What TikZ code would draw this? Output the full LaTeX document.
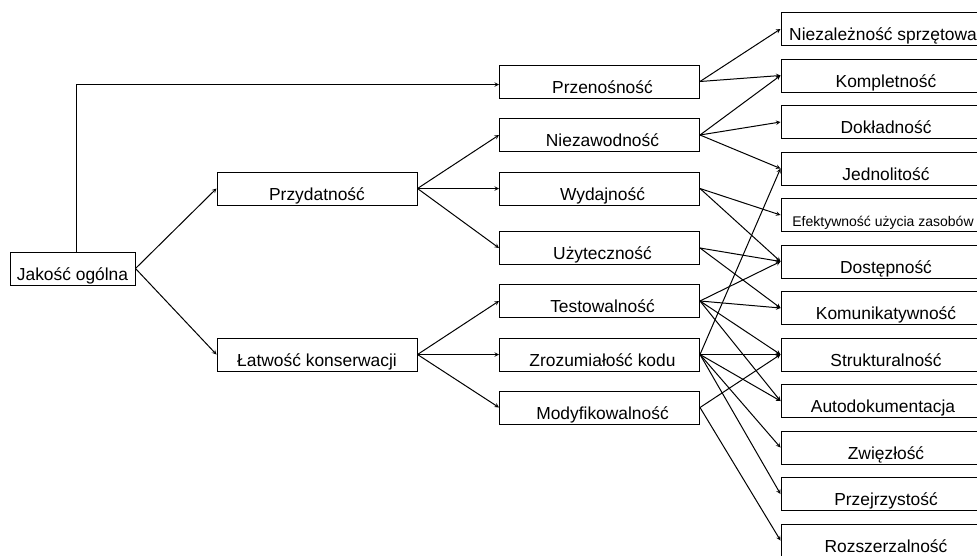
\documentclass[tikz,border=0pt]{standalone}
\usepackage{fontspec}
\setmainfont{Liberation Sans}
\usetikzlibrary{arrows}

\begin{document}
\begin{tikzpicture}[x=1pt, y=-1pt, >=stealth, line width=1pt,
  every node/.style={draw, rectangle, minimum height=33pt, inner ysep=0pt,
    text height=28pt, text depth=5pt, font=\fontsize{17.4}{20}\selectfont},
  leftbox/.style={minimum width=125pt},
  midbox/.style={minimum width=200pt},
  rightbox/.style={minimum width=204pt}]
  \clip (0,0) rectangle (977,555);

  \node[leftbox] (jakosc) at (72.5,268.5) {Jakość ogólna};
  \node[midbox]  (przyd)  at (317,188.5)  {Przydatność};
  \node[midbox]  (latw)   at (317,354.5)  {Łatwość konserwacji};

  \node[midbox] (przen)  at (599.5,81.5)  {\hspace*{6pt}Przenośność};
  \node[midbox] (niezaw) at (599.5,135)   {\hspace*{6pt}Niezawodność};
  \node[midbox] (wydaj)  at (599.5,188.5) {\hspace*{6pt}Wydajność};
  \node[midbox] (uzyt)   at (599.5,248)   {\hspace*{6pt}Użyteczność};
  \node[midbox] (test)   at (599.5,301)   {\hspace*{6pt}Testowalność};
  \node[midbox] (zroz)   at (599.5,354.5) {\hspace*{6pt}Zrozumiałość kodu};
  \node[midbox] (modyf)  at (599.5,407.5) {\hspace*{6pt}Modyfikowalność};

  \node[rightbox] (niezal)  at (883,29)    {Niezależność sprzętowa};
  \node[rightbox] (komplet) at (883,75.5)  {\hspace*{6pt}Kompletność};
  \node[rightbox] (doklad)  at (883,122)   {\hspace*{6pt}Dokładność};
  \node[rightbox] (jednol)  at (883,168.5) {\hspace*{6pt}Jednolitość};
  \node[rightbox, font=\fontsize{14}{16}\selectfont] (efekt) at (883,215) {Efektywność użycia zasobów};
  \node[rightbox] (dostep)  at (883,261.5) {\hspace*{6pt}Dostępność};
  \node[rightbox] (komun)   at (883,308)   {\hspace*{6pt}Komunikatywność};
  \node[rightbox] (strukt)  at (883,354.5) {\hspace*{6pt}Strukturalność};
  \node[rightbox] (autodok) at (883,401)   {Autodokumentacja};
  \node[rightbox] (zwiezl)  at (883,447.5) {\hspace*{6pt}Zwięzłość};
  \node[rightbox] (przejrz) at (883,494)   {\hspace*{6pt}Przejrzystość};
  \node[rightbox] (rozsz)   at (883,540.5) {\hspace*{6pt}Rozszerzalność};

  \draw[->] ([xshift=4pt]jakosc.north) |- ([yshift=-3pt]przen.west);
  \path[->] (jakosc.east) edge (przyd.west) edge (latw.west);
  \path[->] (przyd.east) edge (niezaw.west) edge (wydaj.west) edge (uzyt.west);
  \path[->] (latw.east)  edge (test.west) edge (zroz.west) edge (modyf.west);

  \path[->] (przen.east)  edge (niezal.west) edge (komplet.west);
  \path[->] (niezaw.east) edge (komplet.west) edge (doklad.west) edge (jednol.west);
  \path[->] (wydaj.east)  edge (efekt.west) edge (dostep.west);
  \path[->] (uzyt.east)   edge (dostep.west) edge (komun.west);
  \path[->] (test.east)   edge (dostep.west) edge (komun.west) edge (strukt.west) edge (autodok.west);
  \path[->] (zroz.east)   edge (jednol.west) edge (strukt.west) edge (autodok.west)
                          edge (zwiezl.west) edge (przejrz.west);
  \path[->] (modyf.east)  edge (strukt.west) edge (rozsz.west);

\end{tikzpicture}
\end{document}
